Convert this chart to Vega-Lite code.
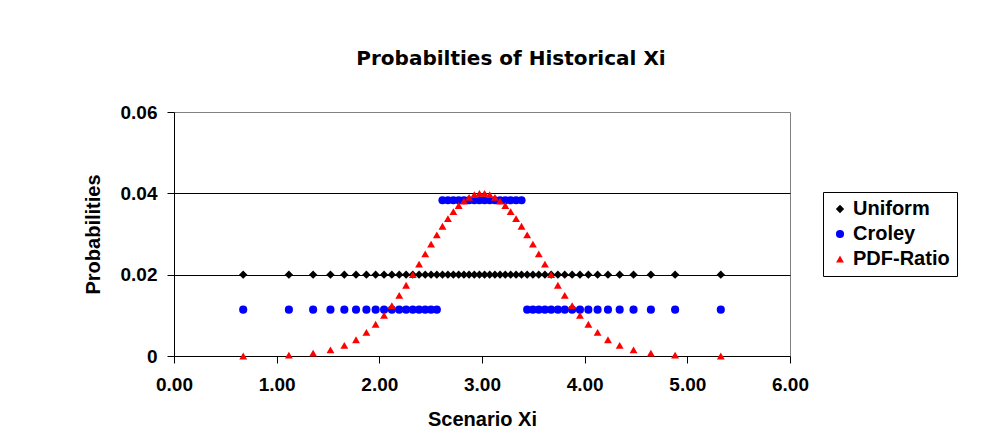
{
  "$schema": "https://vega.github.io/schema/vega-lite/v6.json",
  "width": 616,
  "height": 244,
  "autosize": {"type": "none"},
  "padding": {"left": 174, "top": 112, "right": 193, "bottom": 89},
  "background": "white",
  "config": {"view": {"stroke": "#808080", "strokeWidth": 1}, "font": "Liberation Sans"},
  "title": {"text": "Probabilties of Historical Xi", "font": "DejaVu Sans", "fontSize": 20, "fontWeight": "bold", "color": "black", "anchor": "middle", "dx": 29, "offset": 18, "baseline": "alphabetic"},
  "data": {"values": [
    {"x": 0.674, "Uniform": 0.02, "Croley": 0.0114, "PDF-Ratio": 0.0000},
    {"x": 1.119, "Uniform": 0.02, "Croley": 0.0114, "PDF-Ratio": 0.0002},
    {"x": 1.355, "Uniform": 0.02, "Croley": 0.0114, "PDF-Ratio": 0.0007},
    {"x": 1.524, "Uniform": 0.02, "Croley": 0.0114, "PDF-Ratio": 0.0015},
    {"x": 1.659, "Uniform": 0.02, "Croley": 0.0114, "PDF-Ratio": 0.0026},
    {"x": 1.773, "Uniform": 0.02, "Croley": 0.0114, "PDF-Ratio": 0.0040},
    {"x": 1.874, "Uniform": 0.02, "Croley": 0.0114, "PDF-Ratio": 0.0058},
    {"x": 1.964, "Uniform": 0.02, "Croley": 0.0114, "PDF-Ratio": 0.0078},
    {"x": 2.046, "Uniform": 0.02, "Croley": 0.0114, "PDF-Ratio": 0.0100},
    {"x": 2.122, "Uniform": 0.02, "Croley": 0.0114, "PDF-Ratio": 0.0124},
    {"x": 2.194, "Uniform": 0.02, "Croley": 0.0114, "PDF-Ratio": 0.0149},
    {"x": 2.261, "Uniform": 0.02, "Croley": 0.0114, "PDF-Ratio": 0.0174},
    {"x": 2.326, "Uniform": 0.02, "Croley": 0.0114, "PDF-Ratio": 0.0200},
    {"x": 2.387, "Uniform": 0.02, "Croley": 0.0114, "PDF-Ratio": 0.0226},
    {"x": 2.447, "Uniform": 0.02, "Croley": 0.0114, "PDF-Ratio": 0.0251},
    {"x": 2.504, "Uniform": 0.02, "Croley": 0.0114, "PDF-Ratio": 0.0275},
    {"x": 2.560, "Uniform": 0.02, "Croley": 0.0114, "PDF-Ratio": 0.0298},
    {"x": 2.615, "Uniform": 0.02, "Croley": 0.0383, "PDF-Ratio": 0.0319},
    {"x": 2.668, "Uniform": 0.02, "Croley": 0.0383, "PDF-Ratio": 0.0338},
    {"x": 2.721, "Uniform": 0.02, "Croley": 0.0383, "PDF-Ratio": 0.0355},
    {"x": 2.773, "Uniform": 0.02, "Croley": 0.0383, "PDF-Ratio": 0.0370},
    {"x": 2.824, "Uniform": 0.02, "Croley": 0.0383, "PDF-Ratio": 0.0381},
    {"x": 2.874, "Uniform": 0.02, "Croley": 0.0383, "PDF-Ratio": 0.0390},
    {"x": 2.925, "Uniform": 0.02, "Croley": 0.0383, "PDF-Ratio": 0.0397},
    {"x": 2.975, "Uniform": 0.02, "Croley": 0.0383, "PDF-Ratio": 0.0400},
    {"x": 3.025, "Uniform": 0.02, "Croley": 0.0383, "PDF-Ratio": 0.0400},
    {"x": 3.075, "Uniform": 0.02, "Croley": 0.0383, "PDF-Ratio": 0.0397},
    {"x": 3.126, "Uniform": 0.02, "Croley": 0.0383, "PDF-Ratio": 0.0390},
    {"x": 3.176, "Uniform": 0.02, "Croley": 0.0383, "PDF-Ratio": 0.0381},
    {"x": 3.227, "Uniform": 0.02, "Croley": 0.0383, "PDF-Ratio": 0.0370},
    {"x": 3.279, "Uniform": 0.02, "Croley": 0.0383, "PDF-Ratio": 0.0355},
    {"x": 3.332, "Uniform": 0.02, "Croley": 0.0383, "PDF-Ratio": 0.0338},
    {"x": 3.385, "Uniform": 0.02, "Croley": 0.0383, "PDF-Ratio": 0.0319},
    {"x": 3.440, "Uniform": 0.02, "Croley": 0.0114, "PDF-Ratio": 0.0298},
    {"x": 3.496, "Uniform": 0.02, "Croley": 0.0114, "PDF-Ratio": 0.0275},
    {"x": 3.553, "Uniform": 0.02, "Croley": 0.0114, "PDF-Ratio": 0.0251},
    {"x": 3.613, "Uniform": 0.02, "Croley": 0.0114, "PDF-Ratio": 0.0226},
    {"x": 3.674, "Uniform": 0.02, "Croley": 0.0114, "PDF-Ratio": 0.0200},
    {"x": 3.739, "Uniform": 0.02, "Croley": 0.0114, "PDF-Ratio": 0.0174},
    {"x": 3.806, "Uniform": 0.02, "Croley": 0.0114, "PDF-Ratio": 0.0149},
    {"x": 3.878, "Uniform": 0.02, "Croley": 0.0114, "PDF-Ratio": 0.0124},
    {"x": 3.954, "Uniform": 0.02, "Croley": 0.0114, "PDF-Ratio": 0.0100},
    {"x": 4.036, "Uniform": 0.02, "Croley": 0.0114, "PDF-Ratio": 0.0078},
    {"x": 4.126, "Uniform": 0.02, "Croley": 0.0114, "PDF-Ratio": 0.0058},
    {"x": 4.227, "Uniform": 0.02, "Croley": 0.0114, "PDF-Ratio": 0.0040},
    {"x": 4.341, "Uniform": 0.02, "Croley": 0.0114, "PDF-Ratio": 0.0026},
    {"x": 4.476, "Uniform": 0.02, "Croley": 0.0114, "PDF-Ratio": 0.0015},
    {"x": 4.645, "Uniform": 0.02, "Croley": 0.0114, "PDF-Ratio": 0.0007},
    {"x": 4.881, "Uniform": 0.02, "Croley": 0.0114, "PDF-Ratio": 0.0002},
    {"x": 5.326, "Uniform": 0.02, "Croley": 0.0114, "PDF-Ratio": 0.0000}
  ]},
  "transform": [{"fold": ["Uniform", "Croley", "PDF-Ratio"], "as": ["series", "p"]}],
  "encoding": {
    "x": {
      "field": "x", "type": "quantitative",
      "scale": {"domain": [0, 6], "nice": false, "zero": false},
      "axis": {
        "values": [0, 1, 2, 3, 4, 5, 6], "format": ".2f", "title": "Scenario Xi", "grid": false,
        "domainColor": "black", "tickColor": "black", "tickSize": 7,
        "labelFont": "Liberation Sans", "labelFontSize": 19, "labelFontWeight": "bold", "labelColor": "black",
        "labelPadding": 12, "labelFlush": false, "labelOverlap": false,
        "titleFont": "Liberation Sans", "titleFontSize": 20, "titleFontWeight": "bold", "titleColor": "black",
        "titleY": 69, "titleBaseline": "alphabetic"
      }
    },
    "y": {
      "field": "p", "type": "quantitative",
      "scale": {"domain": [0, 0.06], "nice": false},
      "axis": {
        "values": [0, 0.02, 0.04, 0.06],
        "labelExpr": "datum.value == 0 ? '0' : format(datum.value, '.2f')",
        "title": "Probabilities", "grid": true,
        "gridColor": {"condition": {"test": "datum.value == 0 || datum.value > 0.059", "value": "transparent"}, "value": "black"},
        "domainColor": "black", "tickColor": "black", "tickSize": 7,
        "labelFont": "Liberation Sans", "labelFontSize": 19, "labelFontWeight": "bold", "labelColor": "black",
        "labelPadding": 10, "labelOverlap": false,
        "titleFont": "Liberation Sans", "titleFontSize": 20, "titleFontWeight": "bold", "titleColor": "black",
        "titleX": -75, "titleY": 122, "titleBaseline": "alphabetic", "titleAngle": -90
      }
    },
    "color": {
      "field": "series", "type": "nominal",
      "scale": {"domain": ["Uniform", "Croley", "PDF-Ratio"], "range": ["#000000", "#0000ff", "#ff0000"]},
      "legend": {
        "orient": "none", "legendX": 649, "legendY": 80, "title": null,
        "strokeColor": "black", "fillColor": "white", "padding": 7, "rowPadding": 5,
        "labelFont": "Liberation Sans", "labelFontSize": 20, "labelFontWeight": "bold", "labelColor": "black",
        "labelOffset": 3, "symbolStrokeWidth": 0
      }
    },
    "shape": {
      "field": "series", "type": "nominal",
      "scale": {"domain": ["Uniform", "Croley", "PDF-Ratio"], "range": ["diamond", "circle", "triangle-up"]}
    },
    "size": {
      "field": "series", "type": "nominal",
      "scale": {"domain": ["Uniform", "Croley", "PDF-Ratio"], "range": [70, 62, 42]}
    }
  },
  "layer": [
    {"transform": [{"filter": "datum.series === 'Uniform'"}], "mark": {"type": "point", "filled": true, "opacity": 1}},
    {"transform": [{"filter": "datum.series === 'Croley'"}], "mark": {"type": "point", "filled": true, "opacity": 1}},
    {"transform": [{"filter": "datum.series === 'PDF-Ratio'"}], "mark": {"type": "point", "filled": true, "opacity": 1}}
  ]
}
